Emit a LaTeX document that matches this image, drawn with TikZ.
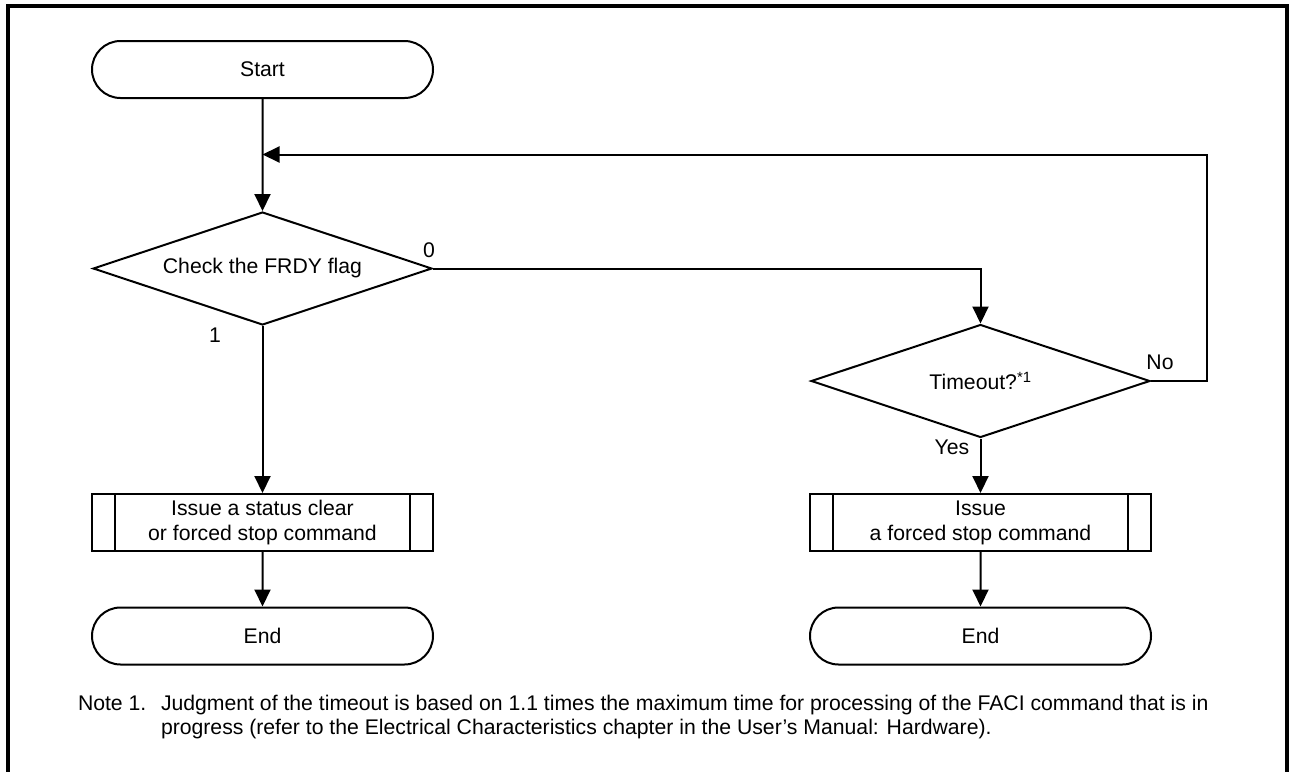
\documentclass[tikz,border=0pt]{standalone}
\usepackage{fontspec}
\setmainfont{Liberation Sans}
\usetikzlibrary{shapes.geometric,shapes.misc,arrows.meta}
\begin{document}
\begin{tikzpicture}[x=1pt,y=-1pt,
  font=\fontsize{21.2}{25}\selectfont,
  line width=2pt,
  term/.style={draw,rounded rectangle,minimum width=341pt,minimum height=57pt,inner sep=0pt},
  decide/.style={draw,diamond,minimum width=339pt,minimum height=113pt,inner sep=0pt,aspect=3},
  predef/.style={draw,rectangle,minimum width=341pt,minimum height=57pt,inner sep=0pt,align=center,
    path picture={\draw[line width=1.6pt] ([xshift=23pt]path picture bounding box.north west) -- ([xshift=23pt]path picture bounding box.south west);
      \draw[line width=1.6pt] ([xshift=-23pt]path picture bounding box.north east) -- ([xshift=-23pt]path picture bounding box.south east);}},
  flow/.style={-{Triangle[length=17pt,width=16pt]}},
  lbl/.style={inner sep=0pt},
  note/.style={inner sep=0pt,anchor=base west,font=\fontsize{21.2}{25}\selectfont}]
\useasboundingbox (0,0) rectangle (1292,771);
\draw[line width=3.5pt] (8,775) -- (8,6) -- (1287,6) -- (1287,775);

\node[term] (start) at (262.5,69.5) {Start};
\node[decide] (d1) at (262.5,268.5) {Check the FRDY flag};
\node[decide] (d2) at (980.5,381) {Timeout?\textsuperscript{*1}};
\node[predef] (b1) at (262.5,522.5) {Issue a status clear\\or forced stop command};
\node[predef] (b2) at (980.5,522.5) {Issue\\a forced stop command};
\node[term] (e1) at (262.5,636) {End};
\node[term] (e2) at (980.5,636) {End};

\coordinate (lr) at (1207,154.5);
\coordinate (jn) at (262.5,154.5);

\draw[flow] (start) -- (d1);
\draw[flow] (d1.east) -| (d2.north);
\draw[flow] (d2.east) -| (lr) -- (jn);
\draw[flow] (d1.south) -- (b1.north);
\draw[flow] (b1) -- (e1);
\draw[flow] (d2.south) -- (b2.north);
\draw[flow] (b2) -- (e2);

\node[lbl] (l0) at (429,250) {0};
\node[lbl] (l1) at (215,335) {1};
\node[lbl] (lno) at (1160,362) {No};
\node[lbl] (lyes) at (952,447) {Yes};

\node[note] (n1) at (77,710) {Note 1.};
\node[note] (n2) at (160,710) {Judgment of the timeout is based on 1.1 times the maximum time for processing of the FACI command that is in};
\node[note] (n3) at (160,734) {progress (refer to the Electrical Characteristics chapter in the User’s Manual: Hardware).};
\end{tikzpicture}
\end{document}
